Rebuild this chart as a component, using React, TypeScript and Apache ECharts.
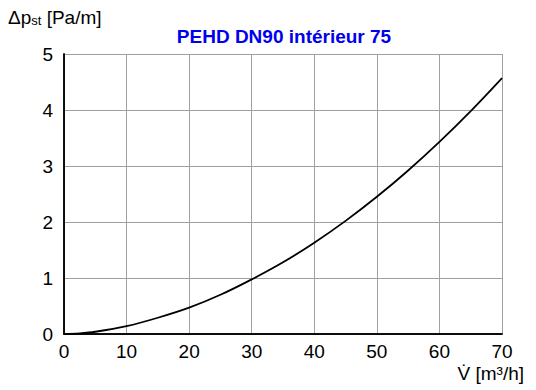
import React, { useEffect, useRef } from "react";
import * as echarts from "echarts";

const flowRates = [0, 2.5, 5, 10, 15, 20, 25, 30, 35, 40, 45, 50, 55, 60, 65, 70];
const pressureDrops = [0, 0.012, 0.04, 0.14, 0.29, 0.47, 0.7, 0.975, 1.28, 1.63, 2.02, 2.45, 2.92, 3.43, 3.98, 4.57];
const xTicks = [0, 10, 20, 30, 40, 50, 60, 70];
const yTicks = [0, 1, 2, 3, 4, 5];
const titleText = "PEHD DN90 intérieur 75";

const FONT = "'Liberation Sans', Arial, sans-serif";

export default function App() {
  const ref = useRef<HTMLDivElement>(null);
  useEffect(() => {
    if (!ref.current) return;
    const chart = echarts.init(ref.current, undefined, { renderer: "svg" });
    const data = flowRates.map((x, i) => [x, pressureDrops[i]]);
    const borderAxis = {
      show: true,
      axisLine: { show: true, lineStyle: { color: "#000", width: 1.5 } },
      axisTick: { show: false },
      axisLabel: { show: false },
      splitLine: { show: false },
    };
    chart.setOption({
      animation: false,
      backgroundColor: "#fff",
      title: {
        text: titleText,
        left: 279,
        top: 22,
        textAlign: "center",
        textStyle: {
          color: "#0000ee",
          fontFamily: FONT,
          fontWeight: "bold",
          fontSize: 19,
        },
      },
      grid: { left: 64, right: 34, top: 54, bottom: 56, containLabel: false },
      xAxis: [
        {
          type: "value",
          min: 0,
          max: 70,
          interval: 10,
          axisLine: { show: true, lineStyle: { color: "#000", width: 1.5 } },
          axisTick: { show: false },
          axisLabel: {
            color: "#000",
            fontFamily: FONT,
            fontSize: 19,
            margin: 8,
            formatter: (v: number) => (xTicks.includes(v) ? String(v) : ""),
          },
          splitLine: { show: true, lineStyle: { color: "#a0a0a0", width: 1 } },
        },
        { ...borderAxis, type: "value", position: "top", min: 0, max: 70 },
      ],
      yAxis: [
        {
          type: "value",
          min: 0,
          max: 5,
          interval: 1,
          axisLine: { show: true, lineStyle: { color: "#000", width: 1.5 } },
          axisTick: { show: false },
          axisLabel: {
            color: "#000",
            fontFamily: FONT,
            fontSize: 19,
            margin: 11,
            formatter: (v: number) => (yTicks.includes(v) ? String(v) : ""),
          },
          splitLine: { show: true, lineStyle: { color: "#a0a0a0", width: 1 } },
        },
        { ...borderAxis, type: "value", position: "right", min: 0, max: 5 },
      ],
      graphic: [
        {
          type: "text",
          left: 8,
          top: 8,
          style: {
            text: "{a|Δp}{s|st}{a| [Pa/m]}",
            rich: {
              a: { fontFamily: FONT, fontSize: 19, fill: "#000", verticalAlign: "bottom" },
              s: { fontFamily: FONT, fontSize: 13, fill: "#000", verticalAlign: "bottom" },
            },
          },
        },
        {
          type: "text",
          right: 12,
          top: 364,
          style: {
            text: "V\u0307 [m³/h]",
            fontFamily: FONT,
            fontSize: 19,
            fill: "#000",
          },
        },
      ],
      series: [
        {
          type: "line",
          data,
          smooth: 0.35,
          symbol: "none",
          lineStyle: { color: "#000", width: 1.8 },
        },
      ],
    });
    return () => chart.dispose();
  }, []);
  return <div ref={ref} style={{ position: "fixed", left: 0, top: 0, width: 536, height: 390 }} />;
}
